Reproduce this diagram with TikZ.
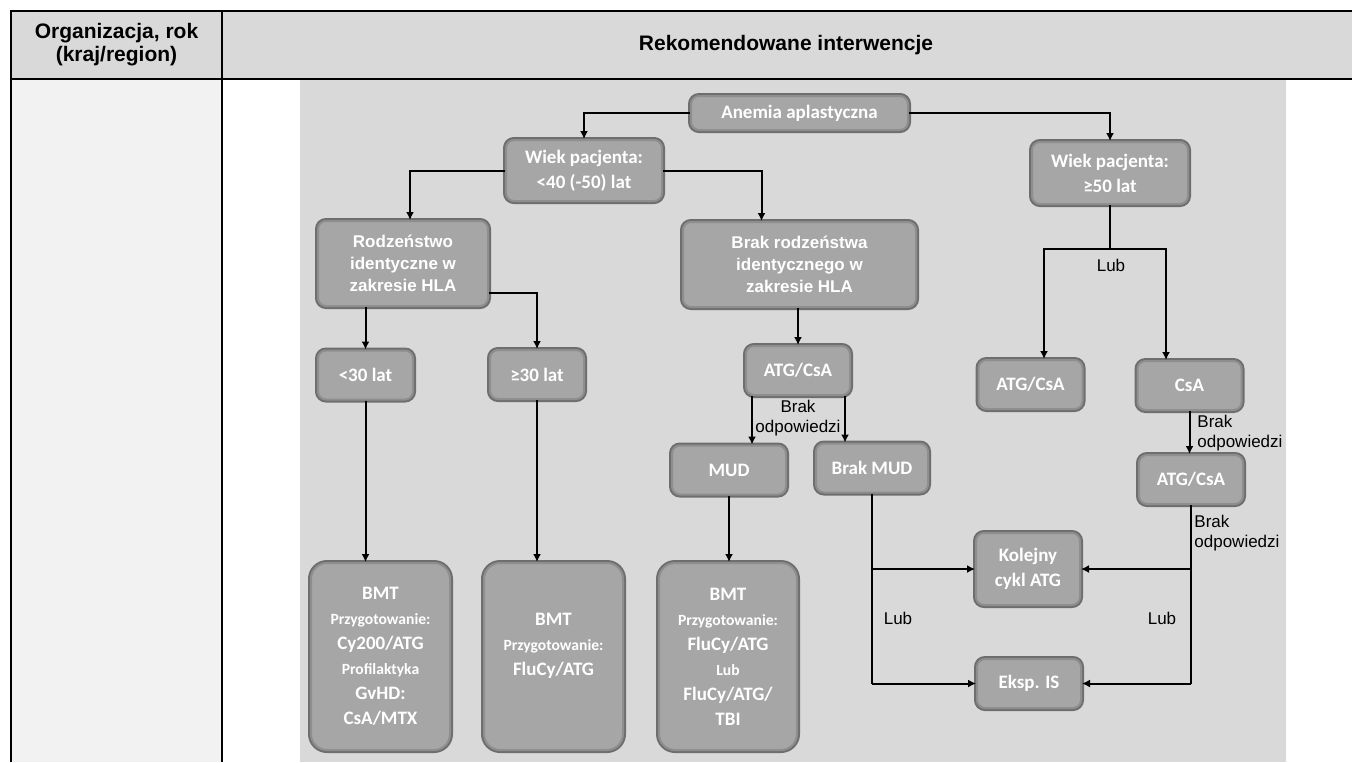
\documentclass[tikz,border=0pt]{standalone}
\usepackage{fontspec}
\setmainfont{Liberation Sans}
\newfontfamily\calibrifont{Carlito}
\usepackage{xcolor}
\usepackage{tikz}
\usetikzlibrary{calc,arrows.meta}

\definecolor{headgray}{HTML}{D9D9D9}
\definecolor{cellgray}{HTML}{F2F2F2}
\definecolor{chartgray}{HTML}{D9D9D9}
\definecolor{boxfill}{HTML}{A6A6A6}
\definecolor{boxrim}{HTML}{8E8E8E}
\definecolor{boxdark}{HTML}{6E6E6E}

\newcommand{\bigline}{\fontsize{9.5}{11.2}\selectfont}
\newcommand{\smallline}{\fontsize{7.8}{11.2}\selectfont}

\begin{document}
\begin{tikzpicture}[x=0.5pt,y=-0.5pt,
    chartbox/.style={rounded corners=4pt, fill=boxfill, draw=boxrim, line width=1pt,
        preaction={draw=boxdark, line width=3pt},
        text=white, align=center, inner sep=1pt,
        font=\calibrifont\bfseries\fontsize{9.5}{12.5}\selectfont},
    hlabox/.style={chartbox, font=\bfseries\fontsize{8.5}{11}\selectfont},
    smallbox/.style={chartbox, minimum width=52pt, minimum height=24.5pt},
    bmtbox/.style={chartbox, rounded corners=8pt, minimum width=69.5pt, minimum height=93.5pt},
    link/.style={line width=1pt},
    arr/.style={link, -{Latex[length=4pt,width=4pt]}},
    note/.style={font=\fontsize{8.5}{10}\selectfont, align=left, inner sep=0pt},
    headtext/.style={font=\bfseries\fontsize{10.5}{11.5}\selectfont, align=center}]

    \useasboundingbox (0,0) rectangle (1352,762);

    % Draw table
    \fill[headgray] (11,11) rectangle (1352,79);
    \fill[cellgray] (11,79) rectangle (222,762);
    \fill[chartgray] (300,80) rectangle (1286,762);
    \draw[line width=1pt] (11,762) -- (11,11) -- (1352,11);
    \draw[line width=1pt] (11,79) -- (1352,79);
    \draw[line width=1pt] (222,11) -- (222,762);
    \node[headtext] (colA) at (116.5,45) {Organizacja, rok\\(kraj/region)};
    \node[headtext] (colB) at (786,45) {Rekomendowane interwencje};

    % Draw boxes
    \node[chartbox, minimum width=108.5pt, minimum height=17pt] (anemia) at (799.5,113) {Anemia aplastyczna};
    \node[chartbox, minimum width=78pt, minimum height=30.5pt] (wiekA) at (584,170.5) {Wiek pacjenta:\\<40 (-50) lat};
    \node[chartbox, minimum width=78pt, minimum height=31pt] (wiekB) at (1110,173) {Wiek pacjenta:\\≥50 lat};
    \node[hlabox, minimum width=85pt, minimum height=42.5pt] (rodz) at (403,263.5) {Rodzeństwo\\identyczne w\\zakresie HLA};
    \node[hlabox, minimum width=116.5pt, minimum height=42.5pt] (brakrodz) at (799.5,264.5) {Brak rodzeństwa\\identycznego w\\zakresie HLA};
    \node[smallbox, minimum width=47.5pt] (lt30) at (365.5,375) {<30 lat};
    \node[smallbox, minimum width=47pt] (ge30) at (537,374.5) {≥30 lat};
    \node[smallbox] (atgA) at (798,370.5) {ATG/CsA};
    \node[smallbox] (atgB) at (1030.5,384.5) {ATG/CsA};
    \node[smallbox] (csaA) at (1189.5,385.5) {CsA};
    \node[smallbox, minimum width=57pt] (mud) at (729,470) {MUD};
    \node[smallbox, minimum width=56pt] (brakmud) at (872,468) {Brak MUD};
    \node[smallbox] (atgC) at (1191,479.5) {ATG/CsA};
    \node[smallbox, minimum height=36pt] (kolejny) at (1028,569) {Kolejny\\cykl ATG};
    \node[smallbox] (eksp) at (1029,683.5) {Eksp. IS};
    \node[bmtbox] (bmtA) at (380.5,656.5) {\bigline BMT\\\smallline Przygotowanie:\\\bigline Cy200/ATG\\\smallline Profilaktyka\\GvHD:\\\bigline CsA/MTX};
    \node[bmtbox] (bmtB) at (553.5,656.5) {\bigline BMT\\\smallline Przygotowanie:\\\bigline FluCy/ATG\\\mbox{}};
    \node[bmtbox, minimum width=69pt] (bmtC) at (728,656.5) {\bigline BMT\\\smallline Przygotowanie:\\\bigline FluCy/ATG\\\smallline Lub\\\bigline FluCy/ATG/\\TBI};

    % Draw connectors, left part
    \draw[arr] (anemia.west) -| (wiekA.north);
    \draw[arr] (anemia.east) -| (wiekB.north);
    \draw[arr] (wiekA.west) -| ([xshift=3.5pt]rodz.north);
    \draw[arr] (wiekA.east) -| ([xshift=-19pt]brakrodz.north);
    \draw[arr] (lt30.north |- rodz.south) -- (lt30.north);
    \draw[arr] ([yshift=-14.75pt]rodz.east) -| (ge30.north);
    \draw[arr] (lt30.south) -- (lt30.south |- bmtA.north);
    \draw[arr] (ge30.south) -- (ge30.south |- bmtB.north);
    \draw[arr] (atgA.north |- brakrodz.south) -- (atgA.north);
    \draw[arr] ([xshift=-23pt]atgA.south) -- ([xshift=-23pt]atgA.south |- mud.north);
    \draw[arr] ([xshift=23.5pt]atgA.south) -- ([xshift=23.5pt]atgA.south |- brakmud.north);
    \node[note, align=center] (noteA) at (798,418) {Brak\\odpowiedzi};
    \draw[arr] (mud.south) -- (mud.south |- bmtC.north);

    % Draw connectors, right part
    \coordinate (forkB) at (1110,249);
    \draw[link] (wiekB.south) -- (forkB);
    \draw[arr] (forkB) -| ([xshift=6.75pt]atgB.north);
    \draw[arr] (forkB) -| ([xshift=-11.75pt]csaA.north);
    \node[note] (lubB) at (1111,265) {Lub};
    \draw[arr] (csaA.south) -- (csaA.south |- atgC.north);
    \node[note, anchor=west] (noteC) at (1197,433) {Brak\\odpowiedzi};
    \coordinate (endC) at (atgC.south |- eksp.east);
    \draw[link] (atgC.south) -- (endC);
    \draw[arr] (atgC.south |- kolejny.east) -- (kolejny.east);
    \draw[arr] (endC) -- (eksp.east);
    \node[note, anchor=west] (noteD) at (1194,533) {Brak\\odpowiedzi};
    \node[note] (lubD) at (1162,618) {Lub};
    \coordinate (endM) at (brakmud.south |- eksp.west);
    \draw[link] (brakmud.south) -- (endM);
    \draw[arr] (brakmud.south |- kolejny.west) -- (kolejny.west);
    \draw[arr] (endM) -- (eksp.west);
    \node[note] (lubM) at (898,618) {Lub};
\end{tikzpicture}
\end{document}
